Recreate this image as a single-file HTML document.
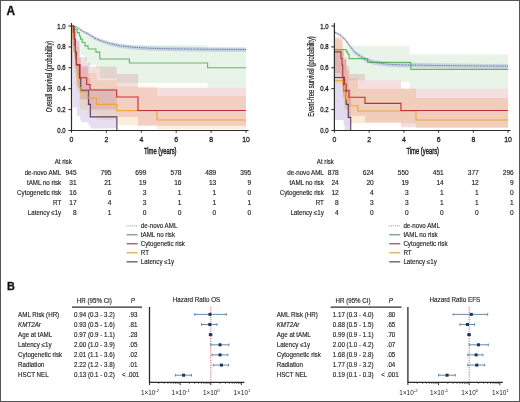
<!DOCTYPE html>
<html><head><meta charset="utf-8"><style>
html,body{margin:0;padding:0;background:#fff;}
#wrap{position:relative;width:520px;height:402px;overflow:hidden;}
svg{display:block;filter:blur(0.3px);}
#bd{position:absolute;left:0;top:0;width:518px;height:400px;border:1px solid #555;}
text{font-family:"Liberation Sans", sans-serif;}
</style></head><body><div id="wrap">
<svg width="520" height="402" viewBox="0 0 520 402" font-family='"Liberation Sans", sans-serif'>
<rect x="0" y="0" width="520" height="402" fill="#fff"/>
<text x="6.40" y="14.75" font-size="11.90" text-anchor="start" fill="#111" font-weight="bold" font-style="normal" textLength="8.59" lengthAdjust="spacingAndGlyphs" stroke="#111" stroke-width="0.3">A</text>
<path d="M71.50,26.00L76.73,26.00L76.73,28.61L81.97,28.61L81.97,31.75L88.95,31.75L88.95,35.93L95.93,35.93L95.93,39.58L102.91,39.58L102.91,42.72L115.12,42.72L115.12,45.33L207.61,45.33L207.61,47.94L246.00,47.94L246.00,87.66L207.61,87.66L207.61,82.95L116.87,82.95L116.87,78.25L99.77,78.25L99.77,67.80L95.93,67.80L95.93,64.67L88.08,64.67L88.08,61.53L84.94,61.53L84.94,55.26L80.57,55.26L80.57,46.90L77.08,46.90L77.08,36.45L73.25,36.45L73.25,26.00L71.50,26.00Z" fill="#63b668" fill-opacity="0.15"/>
<path d="M71.50,26.00L74.12,26.00L74.12,30.18L76.39,30.18L76.39,40.63L79.35,40.63L79.35,57.35L80.75,57.35L80.75,65.71L88.60,65.71L88.60,78.25L90.35,78.25L90.35,88.70L116.87,88.70L116.87,130.50L246.00,130.50L246.00,130.50L116.87,130.50L116.87,128.41L90.35,128.41L90.35,125.28L88.60,125.28L88.60,122.14L81.27,122.14L81.27,120.05L80.22,120.05L80.22,115.87L76.73,115.87L76.73,107.51L72.55,107.51L72.55,67.80L71.50,67.80Z" fill="#8a6fc0" fill-opacity="0.22"/>
<path d="M71.50,26.00L73.25,26.00L73.25,29.14L75.86,29.14L75.86,41.67L78.48,41.67L78.48,57.35L80.22,57.35L80.22,67.80L87.73,67.80L87.73,73.03L96.63,73.03L96.63,80.34L116.87,80.34L116.87,86.61L157.00,86.61L157.00,96.02L246.00,96.02L246.00,128.93L157.00,128.93L157.00,125.28L116.87,125.28L116.87,120.05L96.63,120.05L96.63,114.83L87.73,114.83L87.73,109.60L80.22,109.60L80.22,105.42L79.35,105.42L79.35,90.79L76.73,90.79L76.73,73.03L74.12,73.03L74.12,52.12L72.55,52.12L72.55,26.00L71.50,26.00Z" fill="#efa63a" fill-opacity="0.19"/>
<path d="M71.50,26.00L73.59,26.00L73.59,27.05L74.82,27.05L74.82,31.23L75.86,31.23L75.86,38.54L76.39,38.54L76.39,46.90L80.05,46.90L80.05,57.35L86.68,57.35L86.68,62.58L90.00,62.58L90.00,66.75L116.70,66.75L116.70,74.07L137.98,74.07L137.98,87.66L246.00,87.66L246.00,125.80L137.98,125.80L137.98,116.91L116.70,116.91L116.70,109.60L90.00,109.60L90.00,105.42L86.68,105.42L86.68,99.15L80.05,99.15L80.05,86.61L76.39,86.61L76.39,78.25L75.86,78.25L75.86,67.80L74.82,67.80L74.82,52.12L73.59,52.12L73.59,26.00L71.50,26.00Z" fill="#bd2f3b" fill-opacity="0.155"/>
<path d="M71.50,26.00 L73.25,26.04 L77.43,26.96 L81.97,29.66 L88.95,33.00 L94.88,36.61 L102.39,39.49 L110.94,41.88 L119.66,43.69 L132.57,45.20 L150.02,46.20 L176.20,46.81 L211.10,47.22 L246.00,47.42 L246.00,51.96 L211.10,51.74 L176.20,51.31 L150.02,50.65 L132.57,49.57 L119.66,47.93 L110.94,45.96 L102.39,43.32 L94.88,40.11 L88.95,35.95 L81.97,31.92 L77.43,28.28 L73.25,26.63 L71.50,26.00Z" fill="#b9c6de" fill-opacity="0.7"/>
<path d="M71.50,26.00H73.25V29.34H77.08V32.58H79.35V35.93H80.57V39.17H82.32V42.51H84.94V45.85H88.08V48.99H95.93V52.12H99.77V59.02H129.43V62.99H207.61V67.80H246.00" fill="none" stroke="#63b668" stroke-width="1.1"/>
<path d="M71.50,26.00H74.12V39.06H75.34V52.12H76.39V65.19H79.35V78.25H80.75V90.27H88.60V104.38H90.35V116.91H116.87V130.50H246.00" fill="none" stroke="#553e62" stroke-width="1.1"/>
<path d="M71.50,26.00H72.55V32.27H72.90V38.54H73.25V44.81H74.12V51.08H74.99V56.31H75.86V62.58H76.73V68.84H77.61V75.11H78.48V81.39H79.35V87.66H80.22V91.84H87.73V98.10H96.63V104.38H116.87V110.64H157.00V120.05H246.00" fill="none" stroke="#efa63a" stroke-width="1.1"/>
<path d="M71.50,26.00H73.59V32.53H74.29V39.06H74.82V45.59H75.34V52.12H75.86V58.66H76.39V64.67H80.05V77.73H86.68V84.52H90.00V90.06H116.70V97.06H137.98V110.44H246.00" fill="none" stroke="#bd2f3b" stroke-width="1.1"/>
<path d="M71.50,26.00 L73.25,26.31 L77.43,27.57 L81.97,30.70 L88.95,34.36 L94.88,38.23 L102.39,41.26 L110.94,43.77 L119.66,45.65 L132.57,47.21 L150.02,48.26 L176.20,48.89 L211.10,49.30 L246.00,49.51" fill="none" stroke="#45558f" stroke-width="1.0" stroke-dasharray="0.8 1.0"/>
<path d="M71.50,23 V130.50 H248.50" fill="none" stroke="#2b2b2b" stroke-width="1.2"/>
<path d="M68.40,130.50H71.50" stroke="#2b2b2b" stroke-width="1"/>
<text x="65.60" y="133.00" font-size="7.45" text-anchor="end" fill="#222" font-weight="normal" font-style="normal" textLength="8.30" lengthAdjust="spacingAndGlyphs" stroke="#222" stroke-width="0.3">0.0</text>
<path d="M68.40,109.60H71.50" stroke="#2b2b2b" stroke-width="1"/>
<text x="65.60" y="112.10" font-size="7.45" text-anchor="end" fill="#222" font-weight="normal" font-style="normal" textLength="8.30" lengthAdjust="spacingAndGlyphs" stroke="#222" stroke-width="0.3">0.2</text>
<path d="M68.40,88.70H71.50" stroke="#2b2b2b" stroke-width="1"/>
<text x="65.60" y="91.20" font-size="7.45" text-anchor="end" fill="#222" font-weight="normal" font-style="normal" textLength="8.30" lengthAdjust="spacingAndGlyphs" stroke="#222" stroke-width="0.3">0.4</text>
<path d="M68.40,67.80H71.50" stroke="#2b2b2b" stroke-width="1"/>
<text x="65.60" y="70.30" font-size="7.45" text-anchor="end" fill="#222" font-weight="normal" font-style="normal" textLength="8.30" lengthAdjust="spacingAndGlyphs" stroke="#222" stroke-width="0.3">0.6</text>
<path d="M68.40,46.90H71.50" stroke="#2b2b2b" stroke-width="1"/>
<text x="65.60" y="49.40" font-size="7.45" text-anchor="end" fill="#222" font-weight="normal" font-style="normal" textLength="8.30" lengthAdjust="spacingAndGlyphs" stroke="#222" stroke-width="0.3">0.8</text>
<path d="M68.40,26.00H71.50" stroke="#2b2b2b" stroke-width="1"/>
<text x="65.60" y="28.50" font-size="7.45" text-anchor="end" fill="#222" font-weight="normal" font-style="normal" textLength="8.30" lengthAdjust="spacingAndGlyphs" stroke="#222" stroke-width="0.3">1.0</text>
<path d="M71.50,130.50V132.70" stroke="#2b2b2b" stroke-width="1"/>
<text x="71.50" y="142.10" font-size="7.45" text-anchor="middle" fill="#222" font-weight="normal" font-style="normal" textLength="3.84" lengthAdjust="spacingAndGlyphs" stroke="#222" stroke-width="0.3">0</text>
<path d="M106.40,130.50V132.70" stroke="#2b2b2b" stroke-width="1"/>
<text x="106.40" y="142.10" font-size="7.45" text-anchor="middle" fill="#222" font-weight="normal" font-style="normal" textLength="3.84" lengthAdjust="spacingAndGlyphs" stroke="#222" stroke-width="0.3">2</text>
<path d="M141.30,130.50V132.70" stroke="#2b2b2b" stroke-width="1"/>
<text x="141.30" y="142.10" font-size="7.45" text-anchor="middle" fill="#222" font-weight="normal" font-style="normal" textLength="3.84" lengthAdjust="spacingAndGlyphs" stroke="#222" stroke-width="0.3">4</text>
<path d="M176.20,130.50V132.70" stroke="#2b2b2b" stroke-width="1"/>
<text x="176.20" y="142.10" font-size="7.45" text-anchor="middle" fill="#222" font-weight="normal" font-style="normal" textLength="3.84" lengthAdjust="spacingAndGlyphs" stroke="#222" stroke-width="0.3">6</text>
<path d="M211.10,130.50V132.70" stroke="#2b2b2b" stroke-width="1"/>
<text x="211.10" y="142.10" font-size="7.45" text-anchor="middle" fill="#222" font-weight="normal" font-style="normal" textLength="3.84" lengthAdjust="spacingAndGlyphs" stroke="#222" stroke-width="0.3">8</text>
<path d="M246.00,130.50V132.70" stroke="#2b2b2b" stroke-width="1"/>
<text x="246.00" y="142.10" font-size="7.45" text-anchor="middle" fill="#222" font-weight="normal" font-style="normal" textLength="7.68" lengthAdjust="spacingAndGlyphs" stroke="#222" stroke-width="0.3">10</text>
<text x="160.25" y="153.80" font-size="9.12" text-anchor="middle" fill="#222" font-weight="normal" font-style="normal" textLength="32.60" lengthAdjust="spacingAndGlyphs" stroke="#222" stroke-width="0.45">Time (years)</text>
<text transform="translate(52.00,76.50) rotate(-90)" x="0" y="0" font-size="8.4" text-anchor="middle" fill="#222" stroke="#222" stroke-width="0.18" textLength="71.5" lengthAdjust="spacingAndGlyphs">Overall survival (probability)</text>
<path d="M344.82,45.85L409.61,45.85L409.61,54.22L508.10,54.22L508.10,88.70L409.61,88.70L409.61,81.91L400.41,81.91L400.41,80.34L349.16,80.34L349.16,73.03L344.82,73.03Z" fill="#63b668" fill-opacity="0.15"/>
<path d="M334.40,48.99L343.61,48.99L343.61,59.44L346.21,59.44L346.21,73.03L348.30,73.03L348.30,88.70L350.73,88.70L350.73,130.50L508.10,130.50L508.10,130.50L350.73,130.50L350.73,130.50L344.82,130.50L344.82,125.28L343.61,125.28L343.61,120.05L334.40,120.05Z" fill="#8a6fc0" fill-opacity="0.25"/>
<path d="M334.40,36.45L342.74,36.45L342.74,46.90L343.95,46.90L343.95,57.35L346.56,57.35L346.56,69.89L349.86,69.89L349.86,78.25L357.85,78.25L357.85,88.70L416.04,88.70L416.04,98.10L508.10,98.10L508.10,127.89L416.04,127.89L416.04,123.19L349.86,123.19L349.86,117.96L346.56,117.96L346.56,109.60L343.95,109.60L343.95,99.15L342.74,99.15L342.74,83.47L334.40,83.47Z" fill="#efa63a" fill-opacity="0.22"/>
<path d="M334.40,38.54L341.00,38.54L341.00,40.63L342.74,40.63L342.74,52.12L344.47,52.12L344.47,59.44L346.21,59.44L346.21,65.71L348.99,65.71L348.99,74.07L364.97,74.07L364.97,80.34L400.93,80.34L400.93,88.70L508.10,88.70L508.10,127.36L400.93,127.36L400.93,122.14L364.97,122.14L364.97,115.87L348.99,115.87L348.99,109.60L346.21,109.60L346.21,103.33L344.47,103.33L344.47,97.06L342.74,97.06L342.74,80.34L341.00,80.34L341.00,73.03L334.40,73.03Z" fill="#bd2f3b" fill-opacity="0.155"/>
<path d="M334.42,31.56 L335.62,31.56 L341.00,34.09 L345.34,38.34 L349.86,44.05 L354.38,49.93 L360.45,54.22 L366.36,57.81 L373.83,60.07 L384.25,61.62 L391.72,62.24 L403.88,62.75 L438.62,63.27 L473.36,63.68 L508.10,64.00 L508.10,68.77 L473.36,68.46 L438.62,68.03 L403.88,67.51 L391.72,66.98 L384.25,66.34 L373.83,64.75 L366.36,62.41 L360.45,58.68 L354.38,54.17 L349.86,47.90 L345.34,41.67 L341.00,36.90 L335.62,33.97 L334.42,33.97Z" fill="#b9c6de" fill-opacity="0.7"/>
<path d="M334.40,49.62H346.21V51.92H347.77V54.22H349.16V58.60H367.75V62.37H410.83V69.37H508.10" fill="none" stroke="#63b668" stroke-width="1.1"/>
<path d="M334.40,77.52H343.61V90.79H346.21V104.38H348.30V117.33H350.73V130.50H508.10" fill="none" stroke="#553e62" stroke-width="1.1"/>
<path d="M334.40,80.55H342.74V86.61H343.95V92.88H346.56V99.15H349.86V105.73H357.85V110.96H416.04V120.05H508.10" fill="none" stroke="#efa63a" stroke-width="1.1"/>
<path d="M334.40,51.92H341.00V58.40H342.04V65.19H342.74V77.20H344.47V84.00H346.21V90.48H348.99V97.27H364.97V103.33H400.93V110.44H508.10" fill="none" stroke="#bd2f3b" stroke-width="1.1"/>
<path d="M334.40,26.00 L334.42,32.69 L335.62,32.69 L341.00,35.41 L345.34,39.90 L349.86,45.85 L354.38,51.92 L360.45,56.31 L366.36,59.96 L373.83,62.26 L384.25,63.83 L391.72,64.46 L403.88,64.98 L438.62,65.50 L473.36,65.92 L508.10,66.23" fill="none" stroke="#45558f" stroke-width="1.0" stroke-dasharray="0.8 1.0"/>
<path d="M334.40,23 V130.50 H510.60" fill="none" stroke="#2b2b2b" stroke-width="1.2"/>
<path d="M331.30,130.50H334.40" stroke="#2b2b2b" stroke-width="1"/>
<text x="328.50" y="133.00" font-size="7.45" text-anchor="end" fill="#222" font-weight="normal" font-style="normal" textLength="8.30" lengthAdjust="spacingAndGlyphs" stroke="#222" stroke-width="0.3">0.0</text>
<path d="M331.30,109.60H334.40" stroke="#2b2b2b" stroke-width="1"/>
<text x="328.50" y="112.10" font-size="7.45" text-anchor="end" fill="#222" font-weight="normal" font-style="normal" textLength="8.30" lengthAdjust="spacingAndGlyphs" stroke="#222" stroke-width="0.3">0.2</text>
<path d="M331.30,88.70H334.40" stroke="#2b2b2b" stroke-width="1"/>
<text x="328.50" y="91.20" font-size="7.45" text-anchor="end" fill="#222" font-weight="normal" font-style="normal" textLength="8.30" lengthAdjust="spacingAndGlyphs" stroke="#222" stroke-width="0.3">0.4</text>
<path d="M331.30,67.80H334.40" stroke="#2b2b2b" stroke-width="1"/>
<text x="328.50" y="70.30" font-size="7.45" text-anchor="end" fill="#222" font-weight="normal" font-style="normal" textLength="8.30" lengthAdjust="spacingAndGlyphs" stroke="#222" stroke-width="0.3">0.6</text>
<path d="M331.30,46.90H334.40" stroke="#2b2b2b" stroke-width="1"/>
<text x="328.50" y="49.40" font-size="7.45" text-anchor="end" fill="#222" font-weight="normal" font-style="normal" textLength="8.30" lengthAdjust="spacingAndGlyphs" stroke="#222" stroke-width="0.3">0.8</text>
<path d="M331.30,26.00H334.40" stroke="#2b2b2b" stroke-width="1"/>
<text x="328.50" y="28.50" font-size="7.45" text-anchor="end" fill="#222" font-weight="normal" font-style="normal" textLength="8.30" lengthAdjust="spacingAndGlyphs" stroke="#222" stroke-width="0.3">1.0</text>
<path d="M334.40,130.50V132.70" stroke="#2b2b2b" stroke-width="1"/>
<text x="334.40" y="142.10" font-size="7.45" text-anchor="middle" fill="#222" font-weight="normal" font-style="normal" textLength="3.84" lengthAdjust="spacingAndGlyphs" stroke="#222" stroke-width="0.3">0</text>
<path d="M369.14,130.50V132.70" stroke="#2b2b2b" stroke-width="1"/>
<text x="369.14" y="142.10" font-size="7.45" text-anchor="middle" fill="#222" font-weight="normal" font-style="normal" textLength="3.84" lengthAdjust="spacingAndGlyphs" stroke="#222" stroke-width="0.3">2</text>
<path d="M403.88,130.50V132.70" stroke="#2b2b2b" stroke-width="1"/>
<text x="403.88" y="142.10" font-size="7.45" text-anchor="middle" fill="#222" font-weight="normal" font-style="normal" textLength="3.84" lengthAdjust="spacingAndGlyphs" stroke="#222" stroke-width="0.3">4</text>
<path d="M438.62,130.50V132.70" stroke="#2b2b2b" stroke-width="1"/>
<text x="438.62" y="142.10" font-size="7.45" text-anchor="middle" fill="#222" font-weight="normal" font-style="normal" textLength="3.84" lengthAdjust="spacingAndGlyphs" stroke="#222" stroke-width="0.3">6</text>
<path d="M473.36,130.50V132.70" stroke="#2b2b2b" stroke-width="1"/>
<text x="473.36" y="142.10" font-size="7.45" text-anchor="middle" fill="#222" font-weight="normal" font-style="normal" textLength="3.84" lengthAdjust="spacingAndGlyphs" stroke="#222" stroke-width="0.3">8</text>
<path d="M508.10,130.50V132.70" stroke="#2b2b2b" stroke-width="1"/>
<text x="508.10" y="142.10" font-size="7.45" text-anchor="middle" fill="#222" font-weight="normal" font-style="normal" textLength="7.68" lengthAdjust="spacingAndGlyphs" stroke="#222" stroke-width="0.3">10</text>
<text x="422.75" y="153.80" font-size="9.12" text-anchor="middle" fill="#222" font-weight="normal" font-style="normal" textLength="32.60" lengthAdjust="spacingAndGlyphs" stroke="#222" stroke-width="0.45">Time (years)</text>
<text transform="translate(313.70,76.50) rotate(-90)" x="0" y="0" font-size="8.4" text-anchor="middle" fill="#222" stroke="#222" stroke-width="0.18" textLength="80.6" lengthAdjust="spacingAndGlyphs">Event-free survival (probability)</text>
<text x="63.20" y="164.20" font-size="6.70" text-anchor="middle" fill="#222" font-weight="normal" font-style="normal" textLength="17.10" lengthAdjust="spacingAndGlyphs" stroke="#222" stroke-width="0.14">At risk</text>
<text x="61.20" y="174.70" font-size="6.57" text-anchor="end" fill="#222" font-weight="normal" font-style="normal" textLength="36.54" lengthAdjust="spacingAndGlyphs" stroke="#222" stroke-width="0.14">de-novo AML</text>
<text x="76.60" y="174.70" font-size="6.40" text-anchor="end" fill="#222" font-weight="normal" font-style="normal" textLength="11.01" lengthAdjust="spacingAndGlyphs" stroke="#222" stroke-width="0.14">945</text>
<text x="111.50" y="174.70" font-size="6.40" text-anchor="end" fill="#222" font-weight="normal" font-style="normal" textLength="11.01" lengthAdjust="spacingAndGlyphs" stroke="#222" stroke-width="0.14">795</text>
<text x="146.40" y="174.70" font-size="6.40" text-anchor="end" fill="#222" font-weight="normal" font-style="normal" textLength="11.01" lengthAdjust="spacingAndGlyphs" stroke="#222" stroke-width="0.14">699</text>
<text x="181.50" y="174.70" font-size="6.40" text-anchor="end" fill="#222" font-weight="normal" font-style="normal" textLength="11.01" lengthAdjust="spacingAndGlyphs" stroke="#222" stroke-width="0.14">578</text>
<text x="216.30" y="174.70" font-size="6.40" text-anchor="end" fill="#222" font-weight="normal" font-style="normal" textLength="11.01" lengthAdjust="spacingAndGlyphs" stroke="#222" stroke-width="0.14">489</text>
<text x="251.30" y="174.70" font-size="6.40" text-anchor="end" fill="#222" font-weight="normal" font-style="normal" textLength="11.01" lengthAdjust="spacingAndGlyphs" stroke="#222" stroke-width="0.14">395</text>
<text x="61.20" y="184.60" font-size="6.57" text-anchor="end" fill="#222" font-weight="normal" font-style="normal" textLength="34.22" lengthAdjust="spacingAndGlyphs" stroke="#222" stroke-width="0.14">tAML no risk</text>
<text x="76.60" y="184.60" font-size="6.40" text-anchor="end" fill="#222" font-weight="normal" font-style="normal" textLength="7.34" lengthAdjust="spacingAndGlyphs" stroke="#222" stroke-width="0.14">31</text>
<text x="111.50" y="184.60" font-size="6.40" text-anchor="end" fill="#222" font-weight="normal" font-style="normal" textLength="7.34" lengthAdjust="spacingAndGlyphs" stroke="#222" stroke-width="0.14">21</text>
<text x="146.40" y="184.60" font-size="6.40" text-anchor="end" fill="#222" font-weight="normal" font-style="normal" textLength="7.34" lengthAdjust="spacingAndGlyphs" stroke="#222" stroke-width="0.14">19</text>
<text x="181.50" y="184.60" font-size="6.40" text-anchor="end" fill="#222" font-weight="normal" font-style="normal" textLength="7.34" lengthAdjust="spacingAndGlyphs" stroke="#222" stroke-width="0.14">16</text>
<text x="216.30" y="184.60" font-size="6.40" text-anchor="end" fill="#222" font-weight="normal" font-style="normal" textLength="7.34" lengthAdjust="spacingAndGlyphs" stroke="#222" stroke-width="0.14">13</text>
<text x="251.30" y="184.60" font-size="6.40" text-anchor="end" fill="#222" font-weight="normal" font-style="normal" textLength="3.67" lengthAdjust="spacingAndGlyphs" stroke="#222" stroke-width="0.14">9</text>
<text x="61.20" y="194.60" font-size="6.57" text-anchor="end" fill="#222" font-weight="normal" font-style="normal" textLength="44.11" lengthAdjust="spacingAndGlyphs" stroke="#222" stroke-width="0.14">Cytogenetic risk</text>
<text x="76.60" y="194.60" font-size="6.40" text-anchor="end" fill="#222" font-weight="normal" font-style="normal" textLength="7.34" lengthAdjust="spacingAndGlyphs" stroke="#222" stroke-width="0.14">16</text>
<text x="111.50" y="194.60" font-size="6.40" text-anchor="end" fill="#222" font-weight="normal" font-style="normal" textLength="3.67" lengthAdjust="spacingAndGlyphs" stroke="#222" stroke-width="0.14">6</text>
<text x="146.40" y="194.60" font-size="6.40" text-anchor="end" fill="#222" font-weight="normal" font-style="normal" textLength="3.67" lengthAdjust="spacingAndGlyphs" stroke="#222" stroke-width="0.14">3</text>
<text x="181.50" y="194.60" font-size="6.40" text-anchor="end" fill="#222" font-weight="normal" font-style="normal" textLength="3.67" lengthAdjust="spacingAndGlyphs" stroke="#222" stroke-width="0.14">1</text>
<text x="216.30" y="194.60" font-size="6.40" text-anchor="end" fill="#222" font-weight="normal" font-style="normal" textLength="3.67" lengthAdjust="spacingAndGlyphs" stroke="#222" stroke-width="0.14">1</text>
<text x="251.30" y="194.60" font-size="6.40" text-anchor="end" fill="#222" font-weight="normal" font-style="normal" textLength="3.67" lengthAdjust="spacingAndGlyphs" stroke="#222" stroke-width="0.14">0</text>
<text x="61.20" y="204.70" font-size="6.57" text-anchor="end" fill="#222" font-weight="normal" font-style="normal" textLength="8.15" lengthAdjust="spacingAndGlyphs" stroke="#222" stroke-width="0.14">RT</text>
<text x="76.60" y="204.70" font-size="6.40" text-anchor="end" fill="#222" font-weight="normal" font-style="normal" textLength="7.34" lengthAdjust="spacingAndGlyphs" stroke="#222" stroke-width="0.14">17</text>
<text x="111.50" y="204.70" font-size="6.40" text-anchor="end" fill="#222" font-weight="normal" font-style="normal" textLength="3.67" lengthAdjust="spacingAndGlyphs" stroke="#222" stroke-width="0.14">4</text>
<text x="146.40" y="204.70" font-size="6.40" text-anchor="end" fill="#222" font-weight="normal" font-style="normal" textLength="3.67" lengthAdjust="spacingAndGlyphs" stroke="#222" stroke-width="0.14">3</text>
<text x="181.50" y="204.70" font-size="6.40" text-anchor="end" fill="#222" font-weight="normal" font-style="normal" textLength="3.67" lengthAdjust="spacingAndGlyphs" stroke="#222" stroke-width="0.14">1</text>
<text x="216.30" y="204.70" font-size="6.40" text-anchor="end" fill="#222" font-weight="normal" font-style="normal" textLength="3.67" lengthAdjust="spacingAndGlyphs" stroke="#222" stroke-width="0.14">1</text>
<text x="251.30" y="204.70" font-size="6.40" text-anchor="end" fill="#222" font-weight="normal" font-style="normal" textLength="3.67" lengthAdjust="spacingAndGlyphs" stroke="#222" stroke-width="0.14">1</text>
<text x="61.20" y="214.70" font-size="6.57" text-anchor="end" fill="#222" font-weight="normal" font-style="normal" textLength="33.39" lengthAdjust="spacingAndGlyphs" stroke="#222" stroke-width="0.14">Latency ≤1y</text>
<text x="76.60" y="214.70" font-size="6.40" text-anchor="end" fill="#222" font-weight="normal" font-style="normal" textLength="3.67" lengthAdjust="spacingAndGlyphs" stroke="#222" stroke-width="0.14">8</text>
<text x="111.50" y="214.70" font-size="6.40" text-anchor="end" fill="#222" font-weight="normal" font-style="normal" textLength="3.67" lengthAdjust="spacingAndGlyphs" stroke="#222" stroke-width="0.14">1</text>
<text x="146.40" y="214.70" font-size="6.40" text-anchor="end" fill="#222" font-weight="normal" font-style="normal" textLength="3.67" lengthAdjust="spacingAndGlyphs" stroke="#222" stroke-width="0.14">0</text>
<text x="181.50" y="214.70" font-size="6.40" text-anchor="end" fill="#222" font-weight="normal" font-style="normal" textLength="3.67" lengthAdjust="spacingAndGlyphs" stroke="#222" stroke-width="0.14">0</text>
<text x="216.30" y="214.70" font-size="6.40" text-anchor="end" fill="#222" font-weight="normal" font-style="normal" textLength="3.67" lengthAdjust="spacingAndGlyphs" stroke="#222" stroke-width="0.14">0</text>
<text x="251.30" y="214.70" font-size="6.40" text-anchor="end" fill="#222" font-weight="normal" font-style="normal" textLength="3.67" lengthAdjust="spacingAndGlyphs" stroke="#222" stroke-width="0.14">0</text>
<text x="325.40" y="164.20" font-size="6.70" text-anchor="middle" fill="#222" font-weight="normal" font-style="normal" textLength="17.10" lengthAdjust="spacingAndGlyphs" stroke="#222" stroke-width="0.14">At risk</text>
<text x="323.80" y="174.70" font-size="6.57" text-anchor="end" fill="#222" font-weight="normal" font-style="normal" textLength="36.54" lengthAdjust="spacingAndGlyphs" stroke="#222" stroke-width="0.14">de-novo AML</text>
<text x="338.80" y="174.70" font-size="6.40" text-anchor="end" fill="#222" font-weight="normal" font-style="normal" textLength="11.01" lengthAdjust="spacingAndGlyphs" stroke="#222" stroke-width="0.14">878</text>
<text x="373.80" y="174.70" font-size="6.40" text-anchor="end" fill="#222" font-weight="normal" font-style="normal" textLength="11.01" lengthAdjust="spacingAndGlyphs" stroke="#222" stroke-width="0.14">624</text>
<text x="408.80" y="174.70" font-size="6.40" text-anchor="end" fill="#222" font-weight="normal" font-style="normal" textLength="11.01" lengthAdjust="spacingAndGlyphs" stroke="#222" stroke-width="0.14">550</text>
<text x="443.80" y="174.70" font-size="6.40" text-anchor="end" fill="#222" font-weight="normal" font-style="normal" textLength="11.01" lengthAdjust="spacingAndGlyphs" stroke="#222" stroke-width="0.14">451</text>
<text x="478.80" y="174.70" font-size="6.40" text-anchor="end" fill="#222" font-weight="normal" font-style="normal" textLength="11.01" lengthAdjust="spacingAndGlyphs" stroke="#222" stroke-width="0.14">377</text>
<text x="513.80" y="174.70" font-size="6.40" text-anchor="end" fill="#222" font-weight="normal" font-style="normal" textLength="11.01" lengthAdjust="spacingAndGlyphs" stroke="#222" stroke-width="0.14">296</text>
<text x="323.80" y="184.60" font-size="6.57" text-anchor="end" fill="#222" font-weight="normal" font-style="normal" textLength="34.22" lengthAdjust="spacingAndGlyphs" stroke="#222" stroke-width="0.14">tAML no risk</text>
<text x="338.80" y="184.60" font-size="6.40" text-anchor="end" fill="#222" font-weight="normal" font-style="normal" textLength="7.34" lengthAdjust="spacingAndGlyphs" stroke="#222" stroke-width="0.14">24</text>
<text x="373.80" y="184.60" font-size="6.40" text-anchor="end" fill="#222" font-weight="normal" font-style="normal" textLength="7.34" lengthAdjust="spacingAndGlyphs" stroke="#222" stroke-width="0.14">20</text>
<text x="408.80" y="184.60" font-size="6.40" text-anchor="end" fill="#222" font-weight="normal" font-style="normal" textLength="7.34" lengthAdjust="spacingAndGlyphs" stroke="#222" stroke-width="0.14">19</text>
<text x="443.80" y="184.60" font-size="6.40" text-anchor="end" fill="#222" font-weight="normal" font-style="normal" textLength="7.34" lengthAdjust="spacingAndGlyphs" stroke="#222" stroke-width="0.14">14</text>
<text x="478.80" y="184.60" font-size="6.40" text-anchor="end" fill="#222" font-weight="normal" font-style="normal" textLength="7.34" lengthAdjust="spacingAndGlyphs" stroke="#222" stroke-width="0.14">12</text>
<text x="513.80" y="184.60" font-size="6.40" text-anchor="end" fill="#222" font-weight="normal" font-style="normal" textLength="3.67" lengthAdjust="spacingAndGlyphs" stroke="#222" stroke-width="0.14">9</text>
<text x="323.80" y="194.60" font-size="6.57" text-anchor="end" fill="#222" font-weight="normal" font-style="normal" textLength="44.11" lengthAdjust="spacingAndGlyphs" stroke="#222" stroke-width="0.14">Cytogenetic risk</text>
<text x="338.80" y="194.60" font-size="6.40" text-anchor="end" fill="#222" font-weight="normal" font-style="normal" textLength="7.34" lengthAdjust="spacingAndGlyphs" stroke="#222" stroke-width="0.14">12</text>
<text x="373.80" y="194.60" font-size="6.40" text-anchor="end" fill="#222" font-weight="normal" font-style="normal" textLength="3.67" lengthAdjust="spacingAndGlyphs" stroke="#222" stroke-width="0.14">4</text>
<text x="408.80" y="194.60" font-size="6.40" text-anchor="end" fill="#222" font-weight="normal" font-style="normal" textLength="3.67" lengthAdjust="spacingAndGlyphs" stroke="#222" stroke-width="0.14">3</text>
<text x="443.80" y="194.60" font-size="6.40" text-anchor="end" fill="#222" font-weight="normal" font-style="normal" textLength="3.67" lengthAdjust="spacingAndGlyphs" stroke="#222" stroke-width="0.14">1</text>
<text x="478.80" y="194.60" font-size="6.40" text-anchor="end" fill="#222" font-weight="normal" font-style="normal" textLength="3.67" lengthAdjust="spacingAndGlyphs" stroke="#222" stroke-width="0.14">1</text>
<text x="513.80" y="194.60" font-size="6.40" text-anchor="end" fill="#222" font-weight="normal" font-style="normal" textLength="3.67" lengthAdjust="spacingAndGlyphs" stroke="#222" stroke-width="0.14">0</text>
<text x="323.80" y="204.70" font-size="6.57" text-anchor="end" fill="#222" font-weight="normal" font-style="normal" textLength="8.15" lengthAdjust="spacingAndGlyphs" stroke="#222" stroke-width="0.14">RT</text>
<text x="338.80" y="204.70" font-size="6.40" text-anchor="end" fill="#222" font-weight="normal" font-style="normal" textLength="3.67" lengthAdjust="spacingAndGlyphs" stroke="#222" stroke-width="0.14">8</text>
<text x="373.80" y="204.70" font-size="6.40" text-anchor="end" fill="#222" font-weight="normal" font-style="normal" textLength="3.67" lengthAdjust="spacingAndGlyphs" stroke="#222" stroke-width="0.14">3</text>
<text x="408.80" y="204.70" font-size="6.40" text-anchor="end" fill="#222" font-weight="normal" font-style="normal" textLength="3.67" lengthAdjust="spacingAndGlyphs" stroke="#222" stroke-width="0.14">3</text>
<text x="443.80" y="204.70" font-size="6.40" text-anchor="end" fill="#222" font-weight="normal" font-style="normal" textLength="3.67" lengthAdjust="spacingAndGlyphs" stroke="#222" stroke-width="0.14">1</text>
<text x="478.80" y="204.70" font-size="6.40" text-anchor="end" fill="#222" font-weight="normal" font-style="normal" textLength="3.67" lengthAdjust="spacingAndGlyphs" stroke="#222" stroke-width="0.14">1</text>
<text x="513.80" y="204.70" font-size="6.40" text-anchor="end" fill="#222" font-weight="normal" font-style="normal" textLength="3.67" lengthAdjust="spacingAndGlyphs" stroke="#222" stroke-width="0.14">1</text>
<text x="323.80" y="214.70" font-size="6.57" text-anchor="end" fill="#222" font-weight="normal" font-style="normal" textLength="33.39" lengthAdjust="spacingAndGlyphs" stroke="#222" stroke-width="0.14">Latency ≤1y</text>
<text x="338.80" y="214.70" font-size="6.40" text-anchor="end" fill="#222" font-weight="normal" font-style="normal" textLength="3.67" lengthAdjust="spacingAndGlyphs" stroke="#222" stroke-width="0.14">4</text>
<text x="373.80" y="214.70" font-size="6.40" text-anchor="end" fill="#222" font-weight="normal" font-style="normal" textLength="3.67" lengthAdjust="spacingAndGlyphs" stroke="#222" stroke-width="0.14">0</text>
<text x="408.80" y="214.70" font-size="6.40" text-anchor="end" fill="#222" font-weight="normal" font-style="normal" textLength="3.67" lengthAdjust="spacingAndGlyphs" stroke="#222" stroke-width="0.14">0</text>
<text x="443.80" y="214.70" font-size="6.40" text-anchor="end" fill="#222" font-weight="normal" font-style="normal" textLength="3.67" lengthAdjust="spacingAndGlyphs" stroke="#222" stroke-width="0.14">0</text>
<text x="478.80" y="214.70" font-size="6.40" text-anchor="end" fill="#222" font-weight="normal" font-style="normal" textLength="3.67" lengthAdjust="spacingAndGlyphs" stroke="#222" stroke-width="0.14">0</text>
<text x="513.80" y="214.70" font-size="6.40" text-anchor="end" fill="#222" font-weight="normal" font-style="normal" textLength="3.67" lengthAdjust="spacingAndGlyphs" stroke="#222" stroke-width="0.14">0</text>
<path d="M126.60,225.90H137.60" stroke="#9aa4bb" stroke-width="1.3" stroke-dasharray="0.9 1.0"/>
<text x="140.80" y="228.10" font-size="6.70" text-anchor="start" fill="#222" font-weight="normal" font-style="normal" textLength="36.54" lengthAdjust="spacingAndGlyphs" stroke="#222" stroke-width="0.14">de-novo AML</text>
<path d="M126.60,234.70H137.60" stroke="#84ad84" stroke-width="1.5"/>
<text x="140.80" y="236.90" font-size="6.70" text-anchor="start" fill="#222" font-weight="normal" font-style="normal" textLength="34.22" lengthAdjust="spacingAndGlyphs" stroke="#222" stroke-width="0.14">tAML no risk</text>
<path d="M126.60,243.70H137.60" stroke="#bb5d6b" stroke-width="1.5"/>
<text x="140.80" y="245.90" font-size="6.70" text-anchor="start" fill="#222" font-weight="normal" font-style="normal" textLength="44.11" lengthAdjust="spacingAndGlyphs" stroke="#222" stroke-width="0.14">Cytogenetic risk</text>
<path d="M126.60,252.70H137.60" stroke="#ebb168" stroke-width="1.5"/>
<text x="140.80" y="254.90" font-size="6.70" text-anchor="start" fill="#222" font-weight="normal" font-style="normal" textLength="8.15" lengthAdjust="spacingAndGlyphs" stroke="#222" stroke-width="0.14">RT</text>
<path d="M126.60,261.80H137.60" stroke="#76688c" stroke-width="1.5"/>
<text x="140.80" y="264.00" font-size="6.70" text-anchor="start" fill="#222" font-weight="normal" font-style="normal" textLength="33.39" lengthAdjust="spacingAndGlyphs" stroke="#222" stroke-width="0.14">Latency ≤1y</text>
<path d="M389.20,225.90H400.20" stroke="#9aa4bb" stroke-width="1.3" stroke-dasharray="0.9 1.0"/>
<text x="403.40" y="228.10" font-size="6.70" text-anchor="start" fill="#222" font-weight="normal" font-style="normal" textLength="36.54" lengthAdjust="spacingAndGlyphs" stroke="#222" stroke-width="0.14">de-novo AML</text>
<path d="M389.20,234.70H400.20" stroke="#84ad84" stroke-width="1.5"/>
<text x="403.40" y="236.90" font-size="6.70" text-anchor="start" fill="#222" font-weight="normal" font-style="normal" textLength="34.22" lengthAdjust="spacingAndGlyphs" stroke="#222" stroke-width="0.14">tAML no risk</text>
<path d="M389.20,243.70H400.20" stroke="#bb5d6b" stroke-width="1.5"/>
<text x="403.40" y="245.90" font-size="6.70" text-anchor="start" fill="#222" font-weight="normal" font-style="normal" textLength="44.11" lengthAdjust="spacingAndGlyphs" stroke="#222" stroke-width="0.14">Cytogenetic risk</text>
<path d="M389.20,252.70H400.20" stroke="#ebb168" stroke-width="1.5"/>
<text x="403.40" y="254.90" font-size="6.70" text-anchor="start" fill="#222" font-weight="normal" font-style="normal" textLength="8.15" lengthAdjust="spacingAndGlyphs" stroke="#222" stroke-width="0.14">RT</text>
<path d="M389.20,261.80H400.20" stroke="#76688c" stroke-width="1.5"/>
<text x="403.40" y="264.00" font-size="6.70" text-anchor="start" fill="#222" font-weight="normal" font-style="normal" textLength="33.39" lengthAdjust="spacingAndGlyphs" stroke="#222" stroke-width="0.14">Latency ≤1y</text>
<text x="7.10" y="290.40" font-size="10.90" text-anchor="start" fill="#111" font-weight="bold" font-style="normal" textLength="7.87" lengthAdjust="spacingAndGlyphs" stroke="#111" stroke-width="0.3">B</text>
<text x="76.80" y="303.30" font-size="6.70" text-anchor="start" fill="#222" font-weight="normal" font-style="normal" textLength="35.10" lengthAdjust="spacingAndGlyphs" stroke="#222" stroke-width="0.14">HR (95% CI)</text>
<text x="130.80" y="303.30" font-size="6.70" text-anchor="start" fill="#222" font-weight="normal" font-style="italic" textLength="4.14" lengthAdjust="spacingAndGlyphs" stroke="#222" stroke-width="0.14">P</text>
<path d="M72.00,307.2H142.00" stroke="#2b2b2b" stroke-width="1.3"/>
<text x="18.10" y="316.60" font-size="6.70" text-anchor="start" fill="#222" font-weight="normal" font-style="normal" textLength="41.10" lengthAdjust="spacingAndGlyphs" stroke="#222" stroke-width="0.14">AML Risk (HR)</text>
<text x="74.10" y="316.60" font-size="6.70" text-anchor="start" fill="#222" font-weight="normal" font-style="normal" textLength="40.67" lengthAdjust="spacingAndGlyphs" stroke="#222" stroke-width="0.14">0.94 (0.3 - 3.2)</text>
<text x="128.80" y="316.60" font-size="6.70" text-anchor="start" fill="#222" font-weight="normal" font-style="normal" textLength="8.62" lengthAdjust="spacingAndGlyphs" stroke="#222" stroke-width="0.14">.93</text>
<text x="18.10" y="326.70" font-size="6.70" text-anchor="start" fill="#222" font-weight="normal" font-style="italic" textLength="22.74" lengthAdjust="spacingAndGlyphs" stroke="#222" stroke-width="0.14">KMT2Ar</text>
<text x="74.10" y="326.70" font-size="6.70" text-anchor="start" fill="#222" font-weight="normal" font-style="normal" textLength="40.67" lengthAdjust="spacingAndGlyphs" stroke="#222" stroke-width="0.14">0.93 (0.5 - 1.6)</text>
<text x="128.80" y="326.70" font-size="6.70" text-anchor="start" fill="#222" font-weight="normal" font-style="normal" textLength="8.62" lengthAdjust="spacingAndGlyphs" stroke="#222" stroke-width="0.14">.81</text>
<text x="18.10" y="336.80" font-size="6.70" text-anchor="start" fill="#222" font-weight="normal" font-style="normal" textLength="34.12" lengthAdjust="spacingAndGlyphs" stroke="#222" stroke-width="0.14">Age at tAML</text>
<text x="74.10" y="336.80" font-size="6.70" text-anchor="start" fill="#222" font-weight="normal" font-style="normal" textLength="40.67" lengthAdjust="spacingAndGlyphs" stroke="#222" stroke-width="0.14">0.97 (0.9 - 1.1)</text>
<text x="128.80" y="336.80" font-size="6.70" text-anchor="start" fill="#222" font-weight="normal" font-style="normal" textLength="8.62" lengthAdjust="spacingAndGlyphs" stroke="#222" stroke-width="0.14">.28</text>
<text x="18.10" y="347.00" font-size="6.70" text-anchor="start" fill="#222" font-weight="normal" font-style="normal" textLength="33.39" lengthAdjust="spacingAndGlyphs" stroke="#222" stroke-width="0.14">Latency ≤1y</text>
<text x="74.10" y="347.00" font-size="6.70" text-anchor="start" fill="#222" font-weight="normal" font-style="normal" textLength="40.67" lengthAdjust="spacingAndGlyphs" stroke="#222" stroke-width="0.14">2.00 (1.0 - 3.9)</text>
<text x="128.80" y="347.00" font-size="6.70" text-anchor="start" fill="#222" font-weight="normal" font-style="normal" textLength="8.62" lengthAdjust="spacingAndGlyphs" stroke="#222" stroke-width="0.14">.05</text>
<text x="18.10" y="357.10" font-size="6.70" text-anchor="start" fill="#222" font-weight="normal" font-style="normal" textLength="44.11" lengthAdjust="spacingAndGlyphs" stroke="#222" stroke-width="0.14">Cytogenetic risk</text>
<text x="74.10" y="357.10" font-size="6.70" text-anchor="start" fill="#222" font-weight="normal" font-style="normal" textLength="40.67" lengthAdjust="spacingAndGlyphs" stroke="#222" stroke-width="0.14">2.01 (1.1 - 3.6)</text>
<text x="128.80" y="357.10" font-size="6.70" text-anchor="start" fill="#222" font-weight="normal" font-style="normal" textLength="8.62" lengthAdjust="spacingAndGlyphs" stroke="#222" stroke-width="0.14">.02</text>
<text x="18.10" y="367.30" font-size="6.70" text-anchor="start" fill="#222" font-weight="normal" font-style="normal" textLength="26.20" lengthAdjust="spacingAndGlyphs" stroke="#222" stroke-width="0.14">Radiation</text>
<text x="74.10" y="367.30" font-size="6.70" text-anchor="start" fill="#222" font-weight="normal" font-style="normal" textLength="40.67" lengthAdjust="spacingAndGlyphs" stroke="#222" stroke-width="0.14">2.22 (1.2 - 3.8)</text>
<text x="128.80" y="367.30" font-size="6.70" text-anchor="start" fill="#222" font-weight="normal" font-style="normal" textLength="8.62" lengthAdjust="spacingAndGlyphs" stroke="#222" stroke-width="0.14">.01</text>
<text x="18.10" y="377.40" font-size="6.70" text-anchor="start" fill="#222" font-weight="normal" font-style="normal" textLength="30.55" lengthAdjust="spacingAndGlyphs" stroke="#222" stroke-width="0.14">HSCT NEL</text>
<text x="74.10" y="377.40" font-size="6.70" text-anchor="start" fill="#222" font-weight="normal" font-style="normal" textLength="40.67" lengthAdjust="spacingAndGlyphs" stroke="#222" stroke-width="0.14">0.13 (0.1 - 0.2)</text>
<text x="139.30" y="377.40" font-size="6.70" text-anchor="end" fill="#222" font-weight="normal" font-style="normal" textLength="17.41" lengthAdjust="spacingAndGlyphs" stroke="#222" stroke-width="0.14">&lt; .001</text>
<path d="M149.50,307V382.4H244.45" fill="none" stroke="#2b2b2b" stroke-width="1.3"/>
<path d="M149.50,382.4V385.2" stroke="#2b2b2b" stroke-width="0.9"/>
<path d="M158.73,382.4V384.0" stroke="#2b2b2b" stroke-width="0.6"/>
<path d="M164.12,382.4V384.0" stroke="#2b2b2b" stroke-width="0.6"/>
<path d="M167.95,382.4V384.0" stroke="#2b2b2b" stroke-width="0.6"/>
<path d="M170.92,382.4V384.0" stroke="#2b2b2b" stroke-width="0.6"/>
<path d="M173.35,382.4V384.0" stroke="#2b2b2b" stroke-width="0.6"/>
<path d="M175.40,382.4V384.0" stroke="#2b2b2b" stroke-width="0.6"/>
<path d="M177.18,382.4V384.0" stroke="#2b2b2b" stroke-width="0.6"/>
<path d="M178.75,382.4V384.0" stroke="#2b2b2b" stroke-width="0.6"/>
<text x="150.00" y="395.3" font-size="6.4" text-anchor="middle" fill="#222">1×10<tspan font-size="4.2" dy="-3.2">-2</tspan></text>
<path d="M180.15,382.4V385.2" stroke="#2b2b2b" stroke-width="0.9"/>
<path d="M189.38,382.4V384.0" stroke="#2b2b2b" stroke-width="0.6"/>
<path d="M194.77,382.4V384.0" stroke="#2b2b2b" stroke-width="0.6"/>
<path d="M198.60,382.4V384.0" stroke="#2b2b2b" stroke-width="0.6"/>
<path d="M201.57,382.4V384.0" stroke="#2b2b2b" stroke-width="0.6"/>
<path d="M204.00,382.4V384.0" stroke="#2b2b2b" stroke-width="0.6"/>
<path d="M206.05,382.4V384.0" stroke="#2b2b2b" stroke-width="0.6"/>
<path d="M207.83,382.4V384.0" stroke="#2b2b2b" stroke-width="0.6"/>
<path d="M209.40,382.4V384.0" stroke="#2b2b2b" stroke-width="0.6"/>
<text x="180.65" y="395.3" font-size="6.4" text-anchor="middle" fill="#222">1×10<tspan font-size="4.2" dy="-3.2">-1</tspan></text>
<path d="M210.80,382.4V385.2" stroke="#2b2b2b" stroke-width="0.9"/>
<path d="M220.03,382.4V384.0" stroke="#2b2b2b" stroke-width="0.6"/>
<path d="M225.42,382.4V384.0" stroke="#2b2b2b" stroke-width="0.6"/>
<path d="M229.25,382.4V384.0" stroke="#2b2b2b" stroke-width="0.6"/>
<path d="M232.22,382.4V384.0" stroke="#2b2b2b" stroke-width="0.6"/>
<path d="M234.65,382.4V384.0" stroke="#2b2b2b" stroke-width="0.6"/>
<path d="M236.70,382.4V384.0" stroke="#2b2b2b" stroke-width="0.6"/>
<path d="M238.48,382.4V384.0" stroke="#2b2b2b" stroke-width="0.6"/>
<path d="M240.05,382.4V384.0" stroke="#2b2b2b" stroke-width="0.6"/>
<text x="211.30" y="395.3" font-size="6.4" text-anchor="middle" fill="#222">1×10<tspan font-size="4.2" dy="-3.2">0</tspan></text>
<path d="M241.45,382.4V385.2" stroke="#2b2b2b" stroke-width="0.9"/>
<text x="241.95" y="395.3" font-size="6.4" text-anchor="middle" fill="#222">1×10<tspan font-size="4.2" dy="-3.2">1</tspan></text>
<path d="M210.80,307V382" stroke="#d9344a" stroke-width="0.8" stroke-dasharray="1.2 1.2"/>
<text x="196.50" y="301.50" font-size="6.80" text-anchor="middle" fill="#222" font-weight="normal" font-style="normal" textLength="47.62" lengthAdjust="spacingAndGlyphs" stroke="#222" stroke-width="0.14">Hazard Ratio OS</text>
<path d="M194.77,314.40H226.28M194.77,313.10V315.70M226.28,313.10V315.70" stroke="#4f7fa8" stroke-width="0.9"/>
<rect x="208.48" y="312.90" width="3" height="3" fill="#17375a"/>
<path d="M201.57,324.50H217.06M201.57,323.20V325.80M217.06,323.20V325.80" stroke="#4f7fa8" stroke-width="0.9"/>
<rect x="208.33" y="323.00" width="3" height="3" fill="#17375a"/>
<path d="M209.40,334.60H212.07M209.40,333.30V335.90M212.07,333.30V335.90" stroke="#4f7fa8" stroke-width="0.9"/>
<rect x="208.89" y="333.10" width="3" height="3" fill="#17375a"/>
<path d="M210.80,344.80H228.92M210.80,343.50V346.10M228.92,343.50V346.10" stroke="#4f7fa8" stroke-width="0.9"/>
<rect x="218.53" y="343.30" width="3" height="3" fill="#17375a"/>
<path d="M212.07,354.90H227.85M212.07,353.60V356.20M227.85,353.60V356.20" stroke="#4f7fa8" stroke-width="0.9"/>
<rect x="218.59" y="353.40" width="3" height="3" fill="#17375a"/>
<path d="M213.23,365.10H228.57M213.23,363.80V366.40M228.57,363.80V366.40" stroke="#4f7fa8" stroke-width="0.9"/>
<rect x="219.92" y="363.60" width="3" height="3" fill="#17375a"/>
<path d="M175.40,375.20H191.52M175.40,373.90V376.50M191.52,373.90V376.50" stroke="#4f7fa8" stroke-width="0.9"/>
<rect x="182.14" y="373.70" width="3" height="3" fill="#17375a"/>
<text x="335.50" y="303.30" font-size="6.70" text-anchor="start" fill="#222" font-weight="normal" font-style="normal" textLength="35.10" lengthAdjust="spacingAndGlyphs" stroke="#222" stroke-width="0.14">HR (95% CI)</text>
<text x="388.70" y="303.30" font-size="6.70" text-anchor="start" fill="#222" font-weight="normal" font-style="italic" textLength="4.14" lengthAdjust="spacingAndGlyphs" stroke="#222" stroke-width="0.14">P</text>
<path d="M330.60,307.2H401.50" stroke="#2b2b2b" stroke-width="1.3"/>
<text x="276.70" y="316.60" font-size="6.70" text-anchor="start" fill="#222" font-weight="normal" font-style="normal" textLength="41.10" lengthAdjust="spacingAndGlyphs" stroke="#222" stroke-width="0.14">AML Risk (HR)</text>
<text x="332.80" y="316.60" font-size="6.70" text-anchor="start" fill="#222" font-weight="normal" font-style="normal" textLength="40.67" lengthAdjust="spacingAndGlyphs" stroke="#222" stroke-width="0.14">1.17 (0.3 - 4.0)</text>
<text x="386.70" y="316.60" font-size="6.70" text-anchor="start" fill="#222" font-weight="normal" font-style="normal" textLength="8.62" lengthAdjust="spacingAndGlyphs" stroke="#222" stroke-width="0.14">.80</text>
<text x="276.70" y="326.70" font-size="6.70" text-anchor="start" fill="#222" font-weight="normal" font-style="italic" textLength="22.74" lengthAdjust="spacingAndGlyphs" stroke="#222" stroke-width="0.14">KMT2Ar</text>
<text x="332.80" y="326.70" font-size="6.70" text-anchor="start" fill="#222" font-weight="normal" font-style="normal" textLength="40.67" lengthAdjust="spacingAndGlyphs" stroke="#222" stroke-width="0.14">0.88 (0.5 - 1.5)</text>
<text x="386.70" y="326.70" font-size="6.70" text-anchor="start" fill="#222" font-weight="normal" font-style="normal" textLength="8.62" lengthAdjust="spacingAndGlyphs" stroke="#222" stroke-width="0.14">.65</text>
<text x="276.70" y="336.80" font-size="6.70" text-anchor="start" fill="#222" font-weight="normal" font-style="normal" textLength="34.12" lengthAdjust="spacingAndGlyphs" stroke="#222" stroke-width="0.14">Age at tAML</text>
<text x="332.80" y="336.80" font-size="6.70" text-anchor="start" fill="#222" font-weight="normal" font-style="normal" textLength="40.67" lengthAdjust="spacingAndGlyphs" stroke="#222" stroke-width="0.14">0.99 (0.9 - 1.1)</text>
<text x="386.70" y="336.80" font-size="6.70" text-anchor="start" fill="#222" font-weight="normal" font-style="normal" textLength="8.62" lengthAdjust="spacingAndGlyphs" stroke="#222" stroke-width="0.14">.70</text>
<text x="276.70" y="347.00" font-size="6.70" text-anchor="start" fill="#222" font-weight="normal" font-style="normal" textLength="33.39" lengthAdjust="spacingAndGlyphs" stroke="#222" stroke-width="0.14">Latency ≤1y</text>
<text x="332.80" y="347.00" font-size="6.70" text-anchor="start" fill="#222" font-weight="normal" font-style="normal" textLength="40.67" lengthAdjust="spacingAndGlyphs" stroke="#222" stroke-width="0.14">2.00 (1.0 - 4.2)</text>
<text x="386.70" y="347.00" font-size="6.70" text-anchor="start" fill="#222" font-weight="normal" font-style="normal" textLength="8.62" lengthAdjust="spacingAndGlyphs" stroke="#222" stroke-width="0.14">.07</text>
<text x="276.70" y="357.10" font-size="6.70" text-anchor="start" fill="#222" font-weight="normal" font-style="normal" textLength="44.11" lengthAdjust="spacingAndGlyphs" stroke="#222" stroke-width="0.14">Cytogenetic risk</text>
<text x="332.80" y="357.10" font-size="6.70" text-anchor="start" fill="#222" font-weight="normal" font-style="normal" textLength="40.67" lengthAdjust="spacingAndGlyphs" stroke="#222" stroke-width="0.14">1.68 (0.9 - 2.8)</text>
<text x="386.70" y="357.10" font-size="6.70" text-anchor="start" fill="#222" font-weight="normal" font-style="normal" textLength="8.62" lengthAdjust="spacingAndGlyphs" stroke="#222" stroke-width="0.14">.05</text>
<text x="276.70" y="367.30" font-size="6.70" text-anchor="start" fill="#222" font-weight="normal" font-style="normal" textLength="26.20" lengthAdjust="spacingAndGlyphs" stroke="#222" stroke-width="0.14">Radiation</text>
<text x="332.80" y="367.30" font-size="6.70" text-anchor="start" fill="#222" font-weight="normal" font-style="normal" textLength="40.67" lengthAdjust="spacingAndGlyphs" stroke="#222" stroke-width="0.14">1.77 (0.9 - 3.2)</text>
<text x="386.70" y="367.30" font-size="6.70" text-anchor="start" fill="#222" font-weight="normal" font-style="normal" textLength="8.62" lengthAdjust="spacingAndGlyphs" stroke="#222" stroke-width="0.14">.04</text>
<text x="276.70" y="377.40" font-size="6.70" text-anchor="start" fill="#222" font-weight="normal" font-style="normal" textLength="30.55" lengthAdjust="spacingAndGlyphs" stroke="#222" stroke-width="0.14">HSCT NEL</text>
<text x="332.80" y="377.40" font-size="6.70" text-anchor="start" fill="#222" font-weight="normal" font-style="normal" textLength="40.67" lengthAdjust="spacingAndGlyphs" stroke="#222" stroke-width="0.14">0.19 (0.1 - 0.3)</text>
<text x="398.70" y="377.40" font-size="6.70" text-anchor="end" fill="#222" font-weight="normal" font-style="normal" textLength="17.41" lengthAdjust="spacingAndGlyphs" stroke="#222" stroke-width="0.14">&lt; .001</text>
<path d="M407.90,307V382.4H502.85" fill="none" stroke="#2b2b2b" stroke-width="1.3"/>
<path d="M407.90,382.4V385.2" stroke="#2b2b2b" stroke-width="0.9"/>
<path d="M417.13,382.4V384.0" stroke="#2b2b2b" stroke-width="0.6"/>
<path d="M422.52,382.4V384.0" stroke="#2b2b2b" stroke-width="0.6"/>
<path d="M426.35,382.4V384.0" stroke="#2b2b2b" stroke-width="0.6"/>
<path d="M429.32,382.4V384.0" stroke="#2b2b2b" stroke-width="0.6"/>
<path d="M431.75,382.4V384.0" stroke="#2b2b2b" stroke-width="0.6"/>
<path d="M433.80,382.4V384.0" stroke="#2b2b2b" stroke-width="0.6"/>
<path d="M435.58,382.4V384.0" stroke="#2b2b2b" stroke-width="0.6"/>
<path d="M437.15,382.4V384.0" stroke="#2b2b2b" stroke-width="0.6"/>
<text x="408.40" y="395.3" font-size="6.4" text-anchor="middle" fill="#222">1×10<tspan font-size="4.2" dy="-3.2">-2</tspan></text>
<path d="M438.55,382.4V385.2" stroke="#2b2b2b" stroke-width="0.9"/>
<path d="M447.78,382.4V384.0" stroke="#2b2b2b" stroke-width="0.6"/>
<path d="M453.17,382.4V384.0" stroke="#2b2b2b" stroke-width="0.6"/>
<path d="M457.00,382.4V384.0" stroke="#2b2b2b" stroke-width="0.6"/>
<path d="M459.97,382.4V384.0" stroke="#2b2b2b" stroke-width="0.6"/>
<path d="M462.40,382.4V384.0" stroke="#2b2b2b" stroke-width="0.6"/>
<path d="M464.45,382.4V384.0" stroke="#2b2b2b" stroke-width="0.6"/>
<path d="M466.23,382.4V384.0" stroke="#2b2b2b" stroke-width="0.6"/>
<path d="M467.80,382.4V384.0" stroke="#2b2b2b" stroke-width="0.6"/>
<text x="439.05" y="395.3" font-size="6.4" text-anchor="middle" fill="#222">1×10<tspan font-size="4.2" dy="-3.2">-1</tspan></text>
<path d="M469.20,382.4V385.2" stroke="#2b2b2b" stroke-width="0.9"/>
<path d="M478.43,382.4V384.0" stroke="#2b2b2b" stroke-width="0.6"/>
<path d="M483.82,382.4V384.0" stroke="#2b2b2b" stroke-width="0.6"/>
<path d="M487.65,382.4V384.0" stroke="#2b2b2b" stroke-width="0.6"/>
<path d="M490.62,382.4V384.0" stroke="#2b2b2b" stroke-width="0.6"/>
<path d="M493.05,382.4V384.0" stroke="#2b2b2b" stroke-width="0.6"/>
<path d="M495.10,382.4V384.0" stroke="#2b2b2b" stroke-width="0.6"/>
<path d="M496.88,382.4V384.0" stroke="#2b2b2b" stroke-width="0.6"/>
<path d="M498.45,382.4V384.0" stroke="#2b2b2b" stroke-width="0.6"/>
<text x="469.70" y="395.3" font-size="6.4" text-anchor="middle" fill="#222">1×10<tspan font-size="4.2" dy="-3.2">0</tspan></text>
<path d="M499.85,382.4V385.2" stroke="#2b2b2b" stroke-width="0.9"/>
<text x="500.35" y="395.3" font-size="6.4" text-anchor="middle" fill="#222">1×10<tspan font-size="4.2" dy="-3.2">1</tspan></text>
<path d="M469.20,307V382" stroke="#d9344a" stroke-width="0.8" stroke-dasharray="1.2 1.2"/>
<text x="454.90" y="301.50" font-size="6.80" text-anchor="middle" fill="#222" font-weight="normal" font-style="normal" textLength="50.77" lengthAdjust="spacingAndGlyphs" stroke="#222" stroke-width="0.14">Hazard Ratio EFS</text>
<path d="M453.17,314.40H487.65M453.17,313.10V315.70M487.65,313.10V315.70" stroke="#4f7fa8" stroke-width="0.9"/>
<rect x="469.79" y="312.90" width="3" height="3" fill="#17375a"/>
<path d="M459.97,324.50H474.60M459.97,323.20V325.80M474.60,323.20V325.80" stroke="#4f7fa8" stroke-width="0.9"/>
<rect x="466.00" y="323.00" width="3" height="3" fill="#17375a"/>
<path d="M467.80,334.60H470.47M467.80,333.30V335.90M470.47,333.30V335.90" stroke="#4f7fa8" stroke-width="0.9"/>
<rect x="467.57" y="333.10" width="3" height="3" fill="#17375a"/>
<path d="M469.20,344.80H488.30M469.20,343.50V346.10M488.30,343.50V346.10" stroke="#4f7fa8" stroke-width="0.9"/>
<rect x="476.93" y="343.30" width="3" height="3" fill="#17375a"/>
<path d="M467.80,354.90H482.91M467.80,353.60V356.20M482.91,353.60V356.20" stroke="#4f7fa8" stroke-width="0.9"/>
<rect x="474.61" y="353.40" width="3" height="3" fill="#17375a"/>
<path d="M467.80,365.10H484.68M467.80,363.80V366.40M484.68,363.80V366.40" stroke="#4f7fa8" stroke-width="0.9"/>
<rect x="475.30" y="363.60" width="3" height="3" fill="#17375a"/>
<path d="M438.55,375.20H455.23M438.55,373.90V376.50M455.23,373.90V376.50" stroke="#4f7fa8" stroke-width="0.9"/>
<rect x="445.59" y="373.70" width="3" height="3" fill="#17375a"/>
</svg>
<div id="bd"></div></div>
</body></html>
